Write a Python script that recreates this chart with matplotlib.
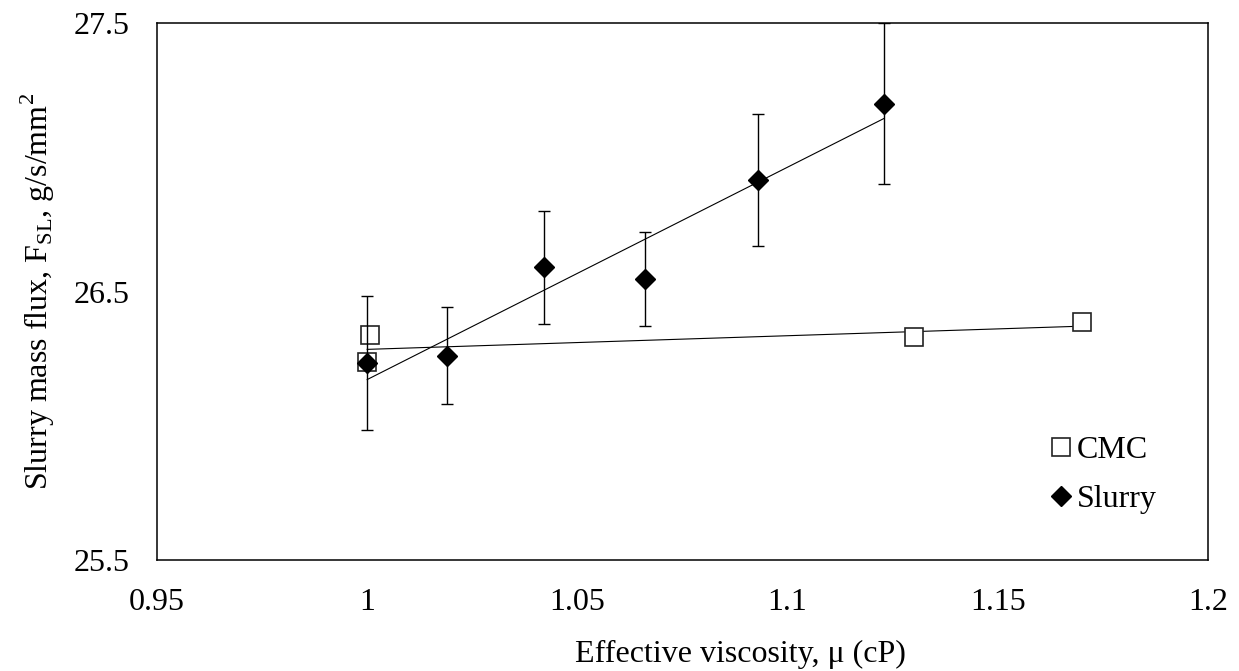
import numpy as np
import matplotlib
matplotlib.use("Agg")
import matplotlib.pyplot as plt

# CMC solution
cmc_visc = [1.0, 1.0007, 1.13, 1.17]
cmc_flux = [26.237, 26.337, 26.332, 26.385]

# slurry
slurry_visc = [1.0, 1.019, 1.042, 1.066, 1.093, 1.123]
slurry_flux = [26.235, 26.261, 26.59, 26.545, 26.915, 27.20]
slurry_err = [0.25, 0.18, 0.21, 0.175, 0.245, 0.30]

plt.rcParams["font.family"] = ["Liberation Serif", "DejaVu Serif"]
plt.rcParams["mathtext.fontset"] = "custom"
plt.rcParams["mathtext.rm"] = "Liberation Serif"

fig = plt.figure(figsize=(12.39, 6.71), dpi=100)
ax = fig.add_axes([0.1267, 0.1654, 0.8483, 0.8003])

# linear trendlines
for xs, ys in [(cmc_visc, cmc_flux), (slurry_visc, slurry_flux)]:
    k, b = np.polyfit(xs, ys, 1)
    xx = np.array([min(xs), max(xs)])
    ax.plot(xx, k * xx + b, color="black", lw=0.8, zorder=2)

ax.plot(cmc_visc, cmc_flux, ls="none", marker="s", ms=13.5,
        mfc="white", mec="#222222", mew=1.2, label="CMC", zorder=3)
ax.errorbar(slurry_visc, slurry_flux, yerr=slurry_err, fmt="none",
            ecolor="black", elinewidth=1.0, capsize=4.5, capthick=1.0, zorder=4)
ax.plot(slurry_visc, slurry_flux, ls="none", marker="D", ms=9.7,
        color="black", label="Slurry", zorder=5)

ax.set_xlim(0.95, 1.2)
ax.set_ylim(25.5, 27.5)
ax.set_xticks([0.95, 1.0, 1.05, 1.1, 1.15, 1.2])
ax.set_xticklabels(["0.95", "1", "1.05", "1.1", "1.15", "1.2"])
ax.set_yticks([25.5, 26.5, 27.5])
ax.tick_params(length=0, labelsize=23)
ax.tick_params(axis="x", pad=20)
ax.tick_params(axis="y", pad=20)
for s in ax.spines.values():
    s.set_linewidth(1.1)

ax.set_xlabel("Effective viscosity, \u03bc (cP)", fontsize=23)
ax.xaxis.set_label_coords(0.5547, -0.149)
ax.set_ylabel(r"Slurry mass flux, F$_\mathregular{SL}$, g/s/mm$^\mathregular{2}$",
              fontsize=23)
ax.yaxis.set_label_coords(-0.095, 0.5)

ax.legend(loc="center left", bbox_to_anchor=(0.848, 0.158), frameon=False,
          fontsize=23, handlelength=0.8, handletextpad=0.1, labelspacing=0.62,
          borderpad=0, borderaxespad=0)

fig.savefig("out.png", dpi=100)
